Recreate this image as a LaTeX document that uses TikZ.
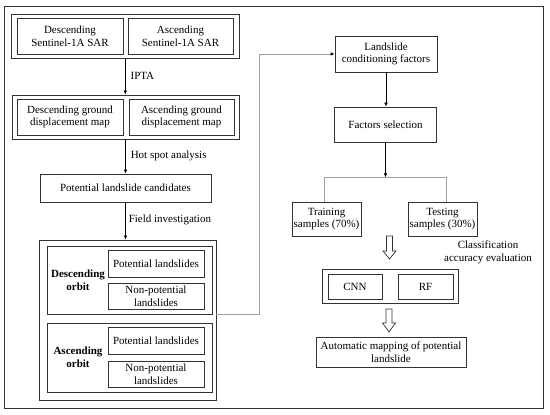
\documentclass[tikz,border=0pt]{standalone}
\usepackage{fontspec}
\setmainfont{Liberation Serif}
\usetikzlibrary{arrows.meta,calc}
\definecolor{boxc}{HTML}{333333}
\definecolor{linec}{HTML}{A0A0A0}
\begin{document}
\begin{tikzpicture}[x=1pt,y=-1pt,
  txt/.style={font=\fontsize{11}{12.7}\selectfont, align=center, inner sep=0pt},
  box/.style={txt, draw=boxc, line width=0.8pt, rectangle},
  grp/.style={draw=boxc, line width=0.9pt, rectangle, inner sep=0pt},
  arr/.style={line width=0.6pt, -{Latex[length=4pt,width=3.6pt]}},
  garr/.style={draw=linec, line width=0.8pt, -{Latex[length=4pt,width=3.6pt,color=black]}},
  gline/.style={draw=linec, line width=0.8pt},
  hol/.style={draw=boxc, line width=0.7pt, fill=white}]
\useasboundingbox (0,0) rectangle (550,415);
\draw[draw=boxc, line width=0.9pt] (4,6) rectangle (543,408);
% left column
\node[grp, minimum width=227.3, minimum height=44] (g1) at (125.3,36) {};
\node[box, minimum width=106, minimum height=36] (ds) at (70,36) {Descending\\Sentinel-1A SAR};
\node[box, minimum width=105, minimum height=36] (as) at (180.5,36) {Ascending\\Sentinel-1A SAR};
\node[grp, minimum width=227, minimum height=44] (g2) at (125.5,117) {};
\node[box, minimum width=106, minimum height=36] (dg) at (70,117) {Descending ground\\displacement map};
\node[box, minimum width=105, minimum height=36] (ag) at (181.5,117) {Ascending ground\\displacement map};
\node[box, minimum width=171, minimum height=28] (plc) at (125.5,188) {Potential landslide candidates};
\node[grp, minimum width=177, minimum height=160] (g3) at (127.5,320) {};
\node[grp, minimum width=165, minimum height=68] (dob) at (129.5,280) {};
\node[box, minimum width=96, minimum height=27] (dp) at (156,263.5) {Potential landslides};
\node[box, minimum width=96, minimum height=26] (dn) at (156,296) {Non-potential\\landslides};
\node[txt, font=\fontsize{11}{12.7}\selectfont\bfseries] (dl) at (78,280) {Descending\\orbit};
\node[grp, minimum width=165, minimum height=69] (aob) at (129.5,357.5) {};
\node[box, minimum width=96, minimum height=27] (ap) at (156,340.5) {Potential landslides};
\node[box, minimum width=96, minimum height=26] (an) at (156,374) {Non-potential\\landslides};
\node[txt, font=\fontsize{11}{12.7}\selectfont\bfseries] (al) at (78,357) {Ascending\\orbit};
\draw[arr] (g1.south) -- (g1.south |- g2.north) node[txt, midway, anchor=west, xshift=5pt, yshift=1pt] (ipta) {IPTA};
\draw[arr] (g2.south) -- (g2.south |- plc.north) node[txt, midway, anchor=west, xshift=5pt, yshift=1pt] (hsa) {Hot spot analysis};
\draw[arr] (plc.south) -- (plc.south |- g3.north) node[txt, midway, anchor=west, xshift=3pt, yshift=1pt] (fi) {Field investigation};
% right column
\node[box, minimum width=102, minimum height=36] (lcf) at (386,54) {Landslide\\conditioning factors};
\node[box, minimum width=102, minimum height=35] (fs) at (385.5,124.5) {Factors selection};
\node[box, minimum width=69, minimum height=34] (tr) at (326.5,219) {Training\\samples (70\%)};
\node[box, minimum width=69, minimum height=34] (te) at (442.5,219) {Testing\\samples (30\%)};
\node[txt] (cae) at (488,252.5) {Classification\\accuracy evaluation};
\node[grp, minimum width=136, minimum height=34] (g4) at (390,286) {};
\node[box, minimum width=54, minimum height=25] (cnn) at (355,286.5) {CNN};
\node[box, minimum width=55, minimum height=25] (rf) at (425.5,286.5) {RF};
\node[box, minimum width=150, minimum height=30] (am) at (391,352) {Automatic mapping of potential\\landslide};
\coordinate (split) at (385.5,177.3);
\draw[garr] (g3.east |- dob.south) -- ++(43,0) |- (lcf.west);
\draw[arr] (lcf.south) -- (lcf.south |- fs.north);
\draw[gline] ($(tr.north)+(-2.5,0)$) |- (split) -| ($(te.north)+(3.5,0)$);
\draw[arr] (fs.south) -- (split);
% hollow arrows
\draw[hol] (386.5,236) -- (386.5,251) -- (383,251) -- (389.5,259) -- (396,251) -- (392.5,251) -- (392.5,236) -- cycle;
\draw[hol] (386,309) -- (386,323) -- (382.5,323) -- (389,332) -- (395.5,323) -- (392,323) -- (392,309) -- cycle;
\end{tikzpicture}
\end{document}
